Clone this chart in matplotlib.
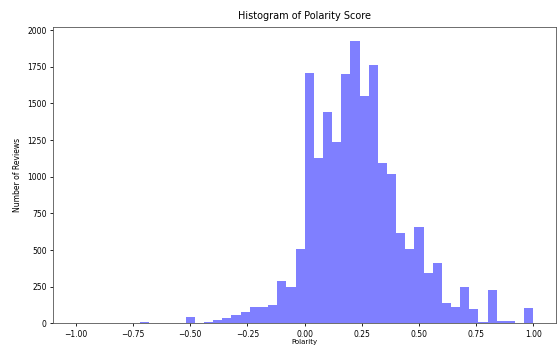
import numpy as np
import matplotlib
matplotlib.use("Agg")
import matplotlib.pyplot as plt

# bin edges of the polarity histogram (50 bins from -1 to 1)
bin_edges = np.linspace(-1.0, 1.0, 51)
# counts, one per bin
counts = [2, 0, 0, 0, 0, 0, 4, 8, 3, 0,
          1, 3, 45, 5, 12, 20, 35, 55, 75, 110,
          115, 125, 290, 250, 505, 1705, 1125, 1445, 1240, 1700,
          1925, 1550, 1765, 1095, 1020, 620, 505, 655, 345, 410,
          140, 115, 250, 100, 10, 230, 15, 15, 5, 105]

centers = (bin_edges[:-1] + bin_edges[1:]) / 2

fig = plt.figure(figsize=(5.59, 3.47), dpi=100)
ax = fig.add_axes([0.095, 0.068, 0.9, 0.854])
ax.hist(centers, bins=bin_edges, weights=counts, color="blue", alpha=0.5)
ax.set_title("Histogram of Polarity Score", fontsize=7)
ax.set_xlabel("Polarity", fontsize=5, labelpad=0.5)
ax.set_ylabel("Number of Reviews", fontsize=5.5)
ax.tick_params(labelsize=5.5, length=2.5, width=0.6, pad=2)
for s in ax.spines.values():
    s.set_linewidth(0.6)
    s.set_color("#555555")

fig.savefig("out.png", dpi=100)
